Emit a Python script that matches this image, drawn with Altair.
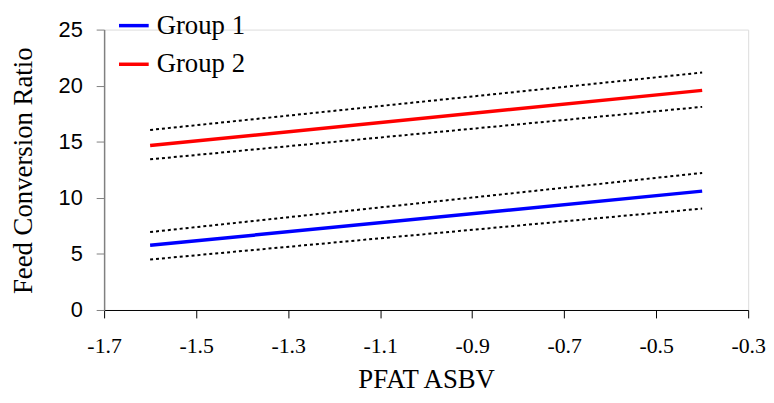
import altair as alt
import pandas as pd

# Data
x_ends = [-1.6, -0.4]
groups = ["Group 1", "Group 2"]
g1_fit = [5.77, 10.6]
g1_upper = [6.95, 12.22]
g1_lower = [4.5, 9.04]
g2_fit = [14.66, 19.58]
g2_upper = [16.05, 21.17]
g2_lower = [13.43, 18.11]
x_ticks = [-1.7, -1.5, -1.3, -1.1, -0.9, -0.7, -0.5, -0.3]
y_ticks = [0, 5, 10, 15, 20, 25]

fit_rows = []
for g, ys in zip(groups, [g1_fit, g2_fit]):
    for x, y in zip(x_ends, ys):
        fit_rows.append({"group": g, "x": x, "y": y})
fit_df = pd.DataFrame(fit_rows)

band_rows = []
for name, ys in [("G1 upper", g1_upper), ("G1 lower", g1_lower),
                 ("G2 upper", g2_upper), ("G2 lower", g2_lower)]:
    for x, y in zip(x_ends, ys):
        band_rows.append({"band": name, "x": x, "y": y})
band_df = pd.DataFrame(band_rows)

x_enc = alt.X(
    "x:Q",
    scale=alt.Scale(domain=[-1.7, -0.3], nice=False, zero=False),
    axis=alt.Axis(
        values=x_ticks, title="PFAT ASBV",
        labelExpr="(datum.value < 0 ? '-' : '') + format(abs(datum.value), '.1f')",
        domainColor="black", tickColor="black", tickSize=8, domainWidth=1, tickWidth=1,
        labelFont="Liberation Serif", labelFontSize=22, labelColor="black", labelPadding=18,
        labelFlush=False,
        titleFont="Liberation Serif", titleFontSize=27, titleFontWeight="normal",
        titleColor="black", titleX=325, titleY=78, titleBaseline="alphabetic",
        grid=False,
    ),
)
y_enc = alt.Y(
    "y:Q",
    scale=alt.Scale(domain=[0, 25], nice=False),
    axis=alt.Axis(
        values=y_ticks, title="Feed Conversion Ratio",
        domainColor="#808080", tickColor="#808080", tickSize=8, domainWidth=1.5, tickWidth=1,
        labelFont="Liberation Sans", labelFontSize=22, labelColor="black", labelPadding=14,
        titleFont="Liberation Serif", titleFontSize=27, titleFontWeight="normal",
        titleColor="black", titleX=-81, titleY=142, titleBaseline="middle", titleAngle=-90,
        grid=False,
    ),
)

bands = alt.Chart(band_df).mark_line(
    color="black", strokeWidth=2, strokeDash=[3, 3]
).encode(x=x_enc, y=y_enc, detail="band:N")

fits = alt.Chart(fit_df).mark_line(strokeWidth=3.5).encode(
    x=x_enc,
    y=y_enc,
    color=alt.Color(
        "group:N",
        scale=alt.Scale(domain=groups, range=["#0000ff", "#ff0000"]),
        legend=alt.Legend(
            title=None, orient="none", legendX=13, legendY=-21,
            symbolType="stroke", symbolSize=900, symbolStrokeWidth=3.5,
            labelFont="Liberation Serif", labelFontSize=27, labelColor="black",
            labelOffset=6, rowPadding=9, padding=0, offset=0,
        ),
    ),
)

chart = alt.layer(bands, fits).properties(
    width=650, height=283,
    autosize=alt.AutoSizeParams(type="none"),
    padding={"left": 97, "top": 20, "right": 18, "bottom": 84},
).configure_view(stroke=None).configure(background="white")

chart.save("out.html", embed_options={"renderer": "svg", "actions": False})
